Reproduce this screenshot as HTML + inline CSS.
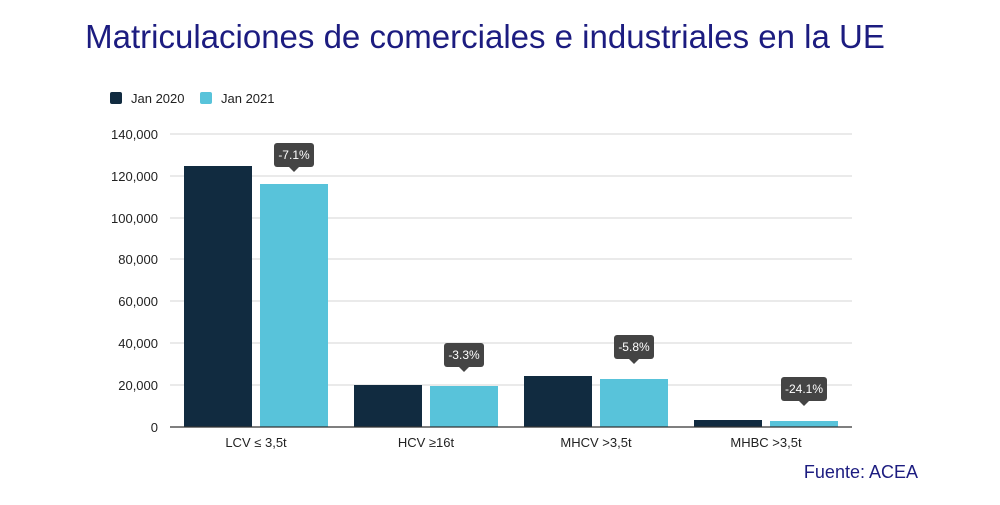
<!DOCTYPE html>
<html><head><meta charset="utf-8"><style>
body{margin:0;background:#fff;}
svg text{font-family:"Liberation Sans",sans-serif;}
</style></head><body>
<svg width="1000" height="500" xmlns="http://www.w3.org/2000/svg">
<text x="485" y="48" text-anchor="middle" font-size="33" fill="#1c1c80">Matriculaciones de comerciales e industriales en la UE</text>
<rect x="110" y="92" width="12" height="12" rx="2" fill="#112b40"/>
<text x="131" y="103" font-size="13" fill="#222">Jan 2020</text>
<rect x="200" y="92" width="12" height="12" rx="2" fill="#58c3da"/>
<text x="221" y="103" font-size="13" fill="#222">Jan 2021</text>
<g stroke="#e4e4e4" stroke-width="1.5">
<line x1="170" x2="852" y1="134" y2="134"/><line x1="170" x2="852" y1="176" y2="176"/>
<line x1="170" x2="852" y1="218" y2="218"/><line x1="170" x2="852" y1="259" y2="259"/>
<line x1="170" x2="852" y1="301" y2="301"/><line x1="170" x2="852" y1="343" y2="343"/>
<line x1="170" x2="852" y1="385" y2="385"/>
</g>
<g font-size="13" fill="#222" text-anchor="end">
<text x="158" y="139">140,000</text><text x="158" y="181">120,000</text>
<text x="158" y="223">100,000</text><text x="158" y="264">80,000</text>
<text x="158" y="306">60,000</text><text x="158" y="348">40,000</text>
<text x="158" y="390">20,000</text><text x="158" y="432">0</text>
</g>
<g fill="#112b40">
<rect x="184" y="166" width="68" height="261"/><rect x="354" y="385" width="68" height="42"/>
<rect x="524" y="376" width="68" height="51"/><rect x="694" y="420" width="68" height="7"/>
</g>
<g fill="#58c3da">
<rect x="260" y="184" width="68" height="243"/><rect x="430" y="386" width="68" height="41"/>
<rect x="600" y="379" width="68" height="48"/><rect x="770" y="421" width="68" height="6"/>
</g>
<line x1="170" x2="852" y1="427" y2="427" stroke="#333" stroke-width="1.2"/>
<g font-size="13" fill="#222" text-anchor="middle">
<text x="256" y="447">LCV ≤ 3,5t</text><text x="426" y="447">HCV ≥16t</text>
<text x="596" y="447">MHCV &gt;3,5t</text><text x="766" y="447">MHBC &gt;3,5t</text>
</g>
<g font-size="12" fill="#fff" text-anchor="middle">
<rect x="274" y="143" width="40" height="24" rx="3" fill="#444"/><path d="M289 167 L294 172 L299 167Z" fill="#444"/><text x="294" y="159">-7.1%</text>
<rect x="444" y="343" width="40" height="24" rx="3" fill="#444"/><path d="M459 367 L464 372 L469 367Z" fill="#444"/><text x="464" y="359">-3.3%</text>
<rect x="614" y="335" width="40" height="24" rx="3" fill="#444"/><path d="M629 359 L634 364 L639 359Z" fill="#444"/><text x="634" y="351">-5.8%</text>
<rect x="781" y="377" width="46" height="24" rx="3" fill="#444"/><path d="M799 401 L804 406 L809 401Z" fill="#444"/><text x="804" y="393">-24.1%</text>
</g>
<text x="918" y="478" text-anchor="end" font-size="18" fill="#1c1c80">Fuente: ACEA</text>
</svg>
</body></html>
